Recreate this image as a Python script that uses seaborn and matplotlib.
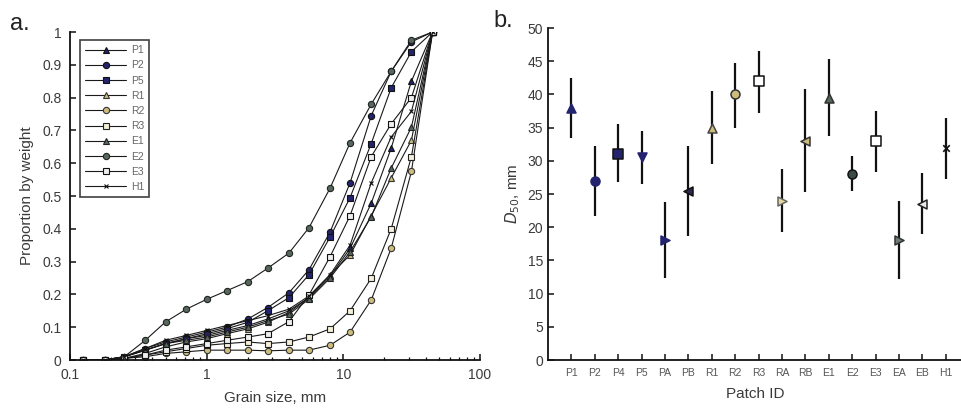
import numpy as np
import pandas as pd
import matplotlib
matplotlib.use("Agg")
import matplotlib.pyplot as plt
import seaborn as sns
from matplotlib.ticker import LogLocator, NullFormatter, FuncFormatter

sns.set_theme(style="ticks")
plt.rcParams['font.family'] = ['Liberation Sans', 'DejaVu Sans']

# ---------------- Panel a data ----------------
grain_sizes = [0.125, 0.18, 0.25, 0.355, 0.5, 0.71, 1, 1.4, 2, 2.8, 4, 5.6, 8, 11.2, 16, 22.4, 31.5, 45]
series_names = ["P1", "P2", "P5", "R1", "R2", "R3", "E1", "E2", "E3", "H1"]
P1 = [0, 0, 0.01, 0.03, 0.05, 0.065, 0.075, 0.09, 0.105, 0.125, 0.15, 0.19, 0.255, 0.34, 0.478, 0.646, 0.85, 1]
P2 = [0, 0, 0.01, 0.035, 0.055, 0.07, 0.085, 0.10, 0.125, 0.16, 0.205, 0.275, 0.39, 0.54, 0.745, 0.88, 0.97, 1]
P5 = [0, 0, 0.01, 0.03, 0.05, 0.065, 0.08, 0.095, 0.115, 0.15, 0.19, 0.26, 0.375, 0.495, 0.66, 0.83, 0.94, 1]
R1 = [0, 0, 0.005, 0.02, 0.04, 0.055, 0.065, 0.08, 0.095, 0.115, 0.145, 0.19, 0.26, 0.32, 0.44, 0.555, 0.67, 1]
R2 = [0, 0, 0.005, 0.01, 0.02, 0.025, 0.03, 0.03, 0.03, 0.028, 0.03, 0.03, 0.045, 0.085, 0.183, 0.341, 0.575, 1]
R3 = [0, 0, 0.005, 0.015, 0.025, 0.035, 0.045, 0.05, 0.055, 0.05, 0.055, 0.07, 0.095, 0.15, 0.249, 0.40, 0.62, 1]
E1 = [0, 0, 0.01, 0.03, 0.05, 0.06, 0.07, 0.085, 0.10, 0.12, 0.14, 0.185, 0.25, 0.33, 0.437, 0.585, 0.71, 1]
E2 = [0, 0, 0.01, 0.06, 0.116, 0.155, 0.185, 0.211, 0.239, 0.28, 0.326, 0.403, 0.524, 0.662, 0.78, 0.88, 0.975, 1]
E3 = [0, 0, 0.005, 0.015, 0.03, 0.04, 0.05, 0.06, 0.07, 0.08, 0.117, 0.198, 0.315, 0.44, 0.62, 0.72, 0.80, 1]
H1 = [0, 0, 0.01, 0.035, 0.06, 0.075, 0.09, 0.105, 0.12, 0.135, 0.155, 0.195, 0.26, 0.35, 0.54, 0.68, 0.758, 1]
series_values = [P1, P2, P5, R1, R2, R3, E1, E2, E3, H1]

# ---------------- Panel b data ----------------
patch_ids = ["P1", "P2", "P4", "P5", "PA", "PB", "R1", "R2", "R3", "RA", "RB", "E1", "E2", "E3", "EA", "EB", "H1"]
d50 = [38, 27, 31, 30.5, 18, 25.5, 35, 40, 42, 24, 33, 39.5, 28, 33, 18, 23.5, 32]
d50_low = [33.5, 21.7, 26.8, 26.5, 12.3, 18.7, 29.5, 35, 37.2, 19.3, 25.3, 33.7, 25.5, 28.3, 12.2, 19, 27.3]
d50_high = [42.5, 32.3, 35.5, 34.5, 23.8, 32.3, 40.5, 44.8, 46.5, 28.8, 40.8, 45.3, 30.7, 37.5, 24, 28.2, 36.5]

# ---------------- styles ----------------
NAVY = "#23236e"
TAN = "#cdbd7c"
CREAM = "#e2d69e"
GREEN = "#56685c"
DKGREEN = "#3c4b43"
TXT = "#3a3a3a"

a_style = {
    "P1": dict(marker="^", mfc=NAVY, mec="#111111", ms=4.5),
    "P2": dict(marker="o", mfc=NAVY, mec="#111111", ms=4.5),
    "P5": dict(marker="s", mfc=NAVY, mec="#111111", ms=4),
    "R1": dict(marker="^", mfc=TAN, mec="#333333", ms=4.5),
    "R2": dict(marker="o", mfc=TAN, mec="#333333", ms=4.5),
    "R3": dict(marker="s", mfc="#f4efd8", mec="#222222", ms=4),
    "E1": dict(marker="^", mfc=GREEN, mec="#222222", ms=4.5),
    "E2": dict(marker="o", mfc=GREEN, mec="#222222", ms=4.5),
    "E3": dict(marker="s", mfc="#eeeeee", mec="#111111", ms=4.5),
    "H1": dict(marker="x", mfc="#111111", mec="#111111", ms=3),
}

b_style = {
    "P1": ("^", NAVY, NAVY), "P2": ("o", NAVY, NAVY), "P4": ("s", NAVY, "#111111"),
    "P5": ("v", NAVY, NAVY), "PA": (">", NAVY, NAVY), "PB": ("<", "#2a2a50", "#111111"),
    "R1": ("^", TAN, "#444444"), "R2": ("o", TAN, "#333333"), "R3": ("s", "white", "#111111"),
    "RA": (">", CREAM, "#666666"), "RB": ("<", TAN, "#333333"), "E1": ("^", GREEN, "#333333"),
    "E2": ("o", DKGREEN, "#111111"), "E3": ("s", "white", "#111111"), "EA": (">", "#6f7d74", "#333333"),
    "EB": ("<", "#e8e8e8", "#222222"), "H1": ("x", "#111111", "#111111"),
}

fig = plt.figure(figsize=(9.62, 4.15), dpi=100)
W, H = 962, 415
axa = fig.add_axes([70 / W, (H - 360) / H, (480 - 70) / W, (360 - 32) / H])
axb = fig.add_axes([548 / W, (H - 360) / H, (962 - 548) / W, (360 - 28) / H])

# ---- Panel a ----
for name, vals in zip(series_names, series_values):
    st = a_style[name]
    df = pd.DataFrame({"size": grain_sizes, "prop": vals})
    sns.lineplot(data=df, x="size", y="prop", ax=axa, color="#1a1a1a", lw=0.8,
                 marker=st["marker"], markerfacecolor=st["mfc"], markeredgecolor=st["mec"],
                 markersize=st["ms"], markeredgewidth=0.8, label=name, sort=False)

axa.set_xscale("log")
axa.set_xlim(0.1, 100)
axa.set_ylim(0, 1)
axa.set_xticks([0.1, 1, 10, 100])
axa.set_xticklabels(["0.1", "1", "10", "100"])
axa.xaxis.set_minor_locator(LogLocator(base=10, subs=np.arange(2, 10)))
axa.xaxis.set_minor_formatter(NullFormatter())
axa.set_yticks(np.arange(0, 1.01, 0.1))
axa.yaxis.set_major_formatter(FuncFormatter(lambda v, p: "0" if abs(v) < 1e-9 else ("1" if abs(v - 1) < 1e-9 else f"{v:.1f}")))
axa.set_xlabel("Grain size, mm", fontsize=11, color=TXT, labelpad=6)
axa.set_ylabel("Proportion by weight", fontsize=11, color=TXT, labelpad=6)
leg = axa.legend(loc="upper left", bbox_to_anchor=(0.012, 0.99), fontsize=7.5, frameon=True,
                 fancybox=False, edgecolor="#111111", handlelength=4.0, handletextpad=0.4,
                 labelspacing=0.5, borderpad=0.45, labelcolor="#666666")
leg.get_frame().set_linewidth(1.2)

# ---- Panel b ----
pos = np.arange(1, len(patch_ids) + 1)
axb.vlines(pos, d50_low, d50_high, color="#111111", lw=1.6, zorder=2)
for i, pid in enumerate(patch_ids):
    m, fc, ec = b_style[pid]
    if m == "x":
        sns.scatterplot(x=[pos[i]], y=[d50[i]], ax=axb, marker=m, color=fc, s=22, linewidth=1.2, zorder=3, legend=False)
    else:
        sns.scatterplot(x=[pos[i]], y=[d50[i]], ax=axb, marker=m, color=fc, edgecolor=ec, s=42, linewidth=1.1, zorder=3, legend=False)

axb.set_xlim(0, (962 - 548) / 23.4)
axb.set_ylim(0, 50)
axb.set_xticks(pos)
axb.set_xticklabels(patch_ids, fontsize=7.5, color="#555555")
axb.set_yticks(np.arange(0, 51, 5))
axb.set_xlabel("Patch ID", fontsize=11, color=TXT, labelpad=6)
axb.set_ylabel(r"$D_{50}$, mm", fontsize=11, color=TXT, labelpad=4)

for ax in (axa, axb):
    sns.despine(ax=ax)
    for sp in ("left", "bottom"):
        ax.spines[sp].set_color("#111111")
        ax.spines[sp].set_linewidth(1.3)
    ax.tick_params(axis="both", which="major", direction="in", length=4, width=1.1, colors="#111111",
                   labelcolor=TXT, labelsize=10)
    ax.tick_params(axis="both", which="minor", direction="in", length=2.5, width=0.9, colors="#111111")
axa.tick_params(axis="x", which="major", pad=6)
axa.tick_params(axis="y", which="major", pad=6)
axb.tick_params(axis="x", labelsize=7.5, labelcolor="#555555", pad=6)

fig.text(10 / W, 1 - 30 / H, "a.", fontsize=17, color="#222222")
fig.text(493 / W, 1 - 27 / H, "b.", fontsize=17, color="#222222")

fig.savefig("out.png", dpi=100)
